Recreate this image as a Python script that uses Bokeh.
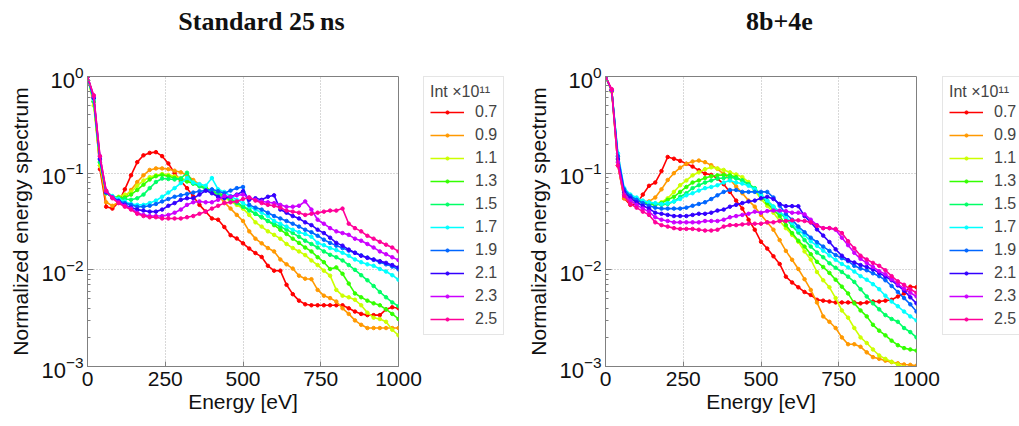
from bokeh.plotting import figure
from bokeh.models import FixedTicker, Legend, LegendItem, Label
from bokeh.layouts import row, column
from bokeh.embed import file_html
from bokeh.resources import INLINE

energy = [0, 20, 40, 60, 80, 100, 120, 140, 160, 180, 200, 220, 240, 260, 280, 300, 320, 340, 360, 380,
          400, 420, 440, 460, 480, 500, 520, 540, 560, 580, 600, 620, 640, 660, 680, 700, 720, 740, 760, 780,
          800, 820, 840, 860, 880, 900, 920, 940, 960, 980, 1000]
intensities = ["0.7", "0.9", "1.1", "1.3", "1.5", "1.7", "1.9", "2.1", "2.3", "2.5"]
colors = ["#ff0000", "#ff9900", "#ccff00", "#33ff00", "#00ff66", "#00ffff", "#0066ff", "#3300ff", "#cc00ff", "#ff0099"]
x_ticks = [0, 250, 500, 750, 1000]
titles = ["Standard 25\u2009ns", "8b+4e"]

# ---- Standard 25 ns ----
std_07 = [1.0, 0.6, 0.11, 0.045, 0.043, 0.05, 0.068, 0.095, 0.13, 0.153, 0.162, 0.165, 0.15, 0.126, 0.10, 0.083, 0.070, 0.0575, 0.047, 0.040,
          0.034, 0.033, 0.0277, 0.0228, 0.0211, 0.0188, 0.0166, 0.0149, 0.0136, 0.011, 0.0098, 0.0098, 0.0070, 0.0056, 0.0048, 0.0044, 0.0043, 0.0043, 0.0043, 0.0043,
          0.0043, 0.0043, 0.0040, 0.0037, 0.0035, 0.0034, 0.0034, 0.0034, 0.0039, 0.0041, 0.0040]
std_09 = [1.0, 0.55, 0.12, 0.05, 0.046, 0.05, 0.056, 0.067, 0.081, 0.095, 0.108, 0.112, 0.112, 0.110, 0.106, 0.102, 0.095, 0.085, 0.076, 0.070,
          0.065, 0.058, 0.050, 0.043, 0.037, 0.032, 0.025, 0.021, 0.0188, 0.0168, 0.0155, 0.0128, 0.0114, 0.0103, 0.0087, 0.0081, 0.008, 0.0062, 0.0054, 0.0051,
          0.0047, 0.004, 0.0035, 0.003, 0.0027, 0.0025, 0.0025, 0.0025, 0.0025, 0.0025, 0.0025]
std_11 = [1.0, 0.5, 0.12, 0.062, 0.057, 0.057, 0.06, 0.064, 0.074, 0.084, 0.091, 0.095, 0.098, 0.096, 0.093, 0.089, 0.084, 0.081, 0.075, 0.071,
          0.066, 0.061, 0.056, 0.051, 0.047, 0.043, 0.037, 0.031, 0.028, 0.025, 0.023, 0.021, 0.0185, 0.0168, 0.0155, 0.0142, 0.0125, 0.0112, 0.0098, 0.0087,
          0.0062, 0.0054, 0.0052, 0.0049, 0.0043, 0.0036, 0.0032, 0.0031, 0.0029, 0.0024, 0.0021]
std_13 = [1.0, 0.55, 0.13, 0.062, 0.057, 0.056, 0.056, 0.060, 0.067, 0.076, 0.086, 0.093, 0.096, 0.093, 0.089, 0.086, 0.082, 0.078, 0.074, 0.070,
          0.065, 0.062, 0.059, 0.054, 0.050, 0.045, 0.042, 0.038, 0.035, 0.032, 0.029, 0.026, 0.0235, 0.021, 0.019, 0.017, 0.0155, 0.0135, 0.012, 0.0102,
          0.0106, 0.0091, 0.0072, 0.0057, 0.0052, 0.0048, 0.0045, 0.0043, 0.0039, 0.0035, 0.0031]
std_15 = [1.0, 0.55, 0.13, 0.063, 0.057, 0.055, 0.054, 0.053, 0.055, 0.060, 0.070, 0.081, 0.088, 0.087, 0.086, 0.088, 0.101, 0.078, 0.073, 0.069,
          0.065, 0.061, 0.057, 0.053, 0.049, 0.045, 0.041, 0.038, 0.035, 0.032, 0.030, 0.028, 0.026, 0.024, 0.022, 0.020, 0.0185, 0.017, 0.0155, 0.0143,
          0.0135, 0.0125, 0.0112, 0.0100, 0.0088, 0.0078, 0.0068, 0.0059, 0.0052, 0.0046, 0.0042]
std_17 = [1.0, 0.58, 0.14, 0.065, 0.058, 0.054, 0.051, 0.048, 0.047, 0.047, 0.049, 0.052, 0.057, 0.063, 0.070, 0.079, 0.089, 0.080, 0.077, 0.074,
          0.089, 0.068, 0.064, 0.058, 0.053, 0.049, 0.045, 0.042, 0.039, 0.036, 0.032, 0.030, 0.028, 0.026, 0.0245, 0.0235, 0.022, 0.019, 0.018, 0.0168,
          0.016, 0.015, 0.014, 0.0128, 0.012, 0.0114, 0.011, 0.0102, 0.0096, 0.0088, 0.0079]
std_19 = [1.0, 0.6, 0.14, 0.063, 0.056, 0.052, 0.049, 0.047, 0.045, 0.045, 0.046, 0.048, 0.051, 0.054, 0.057, 0.059, 0.061, 0.063, 0.065, 0.066,
          0.068, 0.065, 0.062, 0.066, 0.070, 0.072, 0.047, 0.044, 0.042, 0.039, 0.036, 0.034, 0.032, 0.030, 0.028, 0.026, 0.0245, 0.0225, 0.0205, 0.019,
          0.0178, 0.0168, 0.0158, 0.015, 0.0141, 0.0134, 0.0127, 0.012, 0.0114, 0.0108, 0.0101]
std_21 = [1.0, 0.6, 0.14, 0.064, 0.056, 0.051, 0.047, 0.044, 0.042, 0.041, 0.040, 0.040, 0.042, 0.046, 0.049, 0.053, 0.055, 0.055, 0.060, 0.066,
          0.062, 0.057, 0.055, 0.057, 0.060, 0.065, 0.053, 0.055, 0.053, 0.057, 0.059, 0.042, 0.039, 0.036, 0.034, 0.031, 0.029, 0.026, 0.024, 0.0215,
          0.019, 0.0178, 0.0162, 0.015, 0.014, 0.0133, 0.0128, 0.0123, 0.0118, 0.0112, 0.0106]
std_23 = [1.0, 0.62, 0.15, 0.065, 0.056, 0.050, 0.046, 0.043, 0.039, 0.037, 0.036, 0.036, 0.036, 0.037, 0.039, 0.042, 0.047, 0.050, 0.051, 0.050,
          0.050, 0.053, 0.058, 0.057, 0.059, 0.060, 0.056, 0.053, 0.051, 0.050, 0.049, 0.047, 0.045, 0.045, 0.046, 0.051, 0.042, 0.033, 0.030, 0.027,
          0.025, 0.024, 0.023, 0.021, 0.020, 0.0185, 0.017, 0.0155, 0.0145, 0.0135, 0.0126]
std_25 = [1.0, 0.64, 0.15, 0.066, 0.055, 0.049, 0.045, 0.042, 0.038, 0.036, 0.035, 0.035, 0.034, 0.034, 0.034, 0.034, 0.035, 0.036, 0.038, 0.040,
          0.043, 0.046, 0.049, 0.050, 0.051, 0.054, 0.056, 0.052, 0.049, 0.047, 0.046, 0.044, 0.041, 0.040, 0.039, 0.037, 0.038, 0.039, 0.040, 0.041,
          0.041, 0.043, 0.030, 0.027, 0.025, 0.0225, 0.021, 0.0195, 0.0182, 0.017, 0.0155]

# ---- 8b+4e ----
b8_07 = [1.0, 0.72, 0.12, 0.055, 0.047, 0.048, 0.060, 0.074, 0.080, 0.105, 0.147, 0.141, 0.134, 0.125, 0.117, 0.107, 0.099, 0.096, 0.088, 0.077,
         0.064, 0.052, 0.043, 0.033, 0.026, 0.0195, 0.0166, 0.0138, 0.0115, 0.0085, 0.0074, 0.0066, 0.0059, 0.0055, 0.0049, 0.0048, 0.0047, 0.0046, 0.0046, 0.0046,
         0.0046, 0.0045, 0.0046, 0.0047, 0.0047, 0.0048, 0.0049, 0.0053, 0.0057, 0.0067, 0.0066]
b8_09 = [1.0, 0.7, 0.12, 0.055, 0.050, 0.050, 0.051, 0.051, 0.056, 0.068, 0.085, 0.100, 0.114, 0.125, 0.132, 0.135, 0.130, 0.121, 0.111, 0.098,
         0.086, 0.073, 0.062, 0.052, 0.045, 0.037, 0.031, 0.026, 0.0203, 0.0157, 0.0127, 0.0102, 0.008, 0.0062, 0.0046, 0.0033, 0.0029, 0.0025, 0.002, 0.0017,
         0.0017, 0.0016, 0.0014, 0.00125, 0.0012, 0.00115, 0.00111, 0.00108, 0.00105, 0.00104, 0.00102]
b8_11 = [1.0, 0.7, 0.13, 0.06, 0.055, 0.052, 0.050, 0.049, 0.048, 0.050, 0.055, 0.064, 0.075, 0.084, 0.095, 0.102, 0.110, 0.115, 0.112, 0.108,
         0.102, 0.097, 0.091, 0.081, 0.066, 0.054, 0.046, 0.039, 0.032, 0.027, 0.023, 0.0195, 0.0155, 0.0128, 0.0095, 0.0078, 0.0066, 0.0051, 0.0038, 0.0032,
         0.0025, 0.002, 0.00175, 0.0015, 0.0013, 0.0012, 0.00112, 0.00105, 0.00098, 0.0009, 0.00085]
b8_13 = [1.0, 0.72, 0.14, 0.063, 0.057, 0.053, 0.050, 0.048, 0.047, 0.049, 0.053, 0.057, 0.064, 0.072, 0.080, 0.084, 0.089, 0.093, 0.095, 0.096,
         0.095, 0.091, 0.084, 0.076, 0.068, 0.058, 0.049, 0.042, 0.036, 0.029, 0.024, 0.020, 0.0174, 0.0145, 0.0121, 0.0107, 0.0093, 0.0079, 0.0067, 0.0057,
         0.0045, 0.0038, 0.0033, 0.0027, 0.00235, 0.0021, 0.00185, 0.00166, 0.00155, 0.0015, 0.00146]
b8_15 = [1.0, 0.72, 0.15, 0.066, 0.058, 0.054, 0.051, 0.049, 0.048, 0.047, 0.048, 0.051, 0.057, 0.062, 0.070, 0.075, 0.080, 0.084, 0.088, 0.089,
         0.091, 0.088, 0.084, 0.077, 0.070, 0.060, 0.052, 0.045, 0.039, 0.034, 0.0285, 0.0243, 0.0203, 0.0174, 0.0151, 0.0135, 0.0117, 0.0105, 0.0095, 0.0085,
         0.0075, 0.0063, 0.0053, 0.0045, 0.0039, 0.0034, 0.0031, 0.0029, 0.0025, 0.00227, 0.002]
b8_17 = [1.0, 0.72, 0.16, 0.07, 0.06, 0.056, 0.052, 0.050, 0.049, 0.048, 0.049, 0.051, 0.054, 0.059, 0.062, 0.066, 0.070, 0.072, 0.075, 0.080,
         0.084, 0.080, 0.078, 0.074, 0.068, 0.059, 0.052, 0.045, 0.040, 0.035, 0.0305, 0.026, 0.0229, 0.0197, 0.0177, 0.0158, 0.0141, 0.0127, 0.0115, 0.0106,
         0.0096, 0.0086, 0.0079, 0.0071, 0.0063, 0.0054, 0.0047, 0.0042, 0.0037, 0.0033, 0.003]
b8_19 = [1.0, 0.72, 0.15, 0.068, 0.058, 0.053, 0.049, 0.046, 0.044, 0.043, 0.043, 0.043, 0.043, 0.044, 0.046, 0.048, 0.050, 0.054, 0.059, 0.064,
         0.067, 0.067, 0.064, 0.064, 0.064, 0.064, 0.064, 0.056, 0.046, 0.038, 0.033, 0.028, 0.0245, 0.0215, 0.0193, 0.0174, 0.0157, 0.0142, 0.0132, 0.0123,
         0.011, 0.0103, 0.0099, 0.0092, 0.0086, 0.0078, 0.0068, 0.0059, 0.0051, 0.0044, 0.0037]
b8_21 = [1.0, 0.72, 0.14, 0.064, 0.055, 0.050, 0.046, 0.043, 0.039, 0.038, 0.037, 0.036, 0.036, 0.036, 0.037, 0.038, 0.038, 0.039, 0.041, 0.042,
         0.045, 0.047, 0.049, 0.051, 0.052, 0.055, 0.057, 0.054, 0.048, 0.0456, 0.0456, 0.0455, 0.036, 0.031, 0.0262, 0.0226, 0.0194, 0.0163, 0.014, 0.0126,
         0.0119, 0.0112, 0.0107, 0.0101, 0.0093, 0.0085, 0.0078, 0.0069, 0.0061, 0.0052, 0.0045]
b8_23 = [1.0, 0.72, 0.13, 0.06, 0.052, 0.047, 0.043, 0.040, 0.035, 0.033, 0.032, 0.031, 0.031, 0.031, 0.031, 0.031, 0.032, 0.032, 0.032, 0.033,
         0.035, 0.036, 0.037, 0.038, 0.040, 0.039, 0.0405, 0.041, 0.041, 0.0405, 0.039, 0.039, 0.0375, 0.033, 0.029, 0.027, 0.027, 0.026, 0.0215, 0.018,
         0.015, 0.013, 0.0118, 0.0107, 0.0097, 0.009, 0.008, 0.0071, 0.0064, 0.0058, 0.0053]
b8_25 = [1.0, 0.74, 0.12, 0.058, 0.048, 0.044, 0.040, 0.037, 0.031, 0.029, 0.028, 0.027, 0.0265, 0.0265, 0.0265, 0.026, 0.0255, 0.0255, 0.026, 0.028,
         0.029, 0.029, 0.0295, 0.030, 0.030, 0.030, 0.031, 0.031, 0.032, 0.032, 0.0325, 0.0325, 0.032, 0.031, 0.0285, 0.027, 0.027, 0.0265, 0.024, 0.0198,
         0.0167, 0.014, 0.0128, 0.0118, 0.011, 0.0099, 0.0086, 0.0076, 0.007, 0.0063, 0.0058]

std_series = [std_07, std_09, std_11, std_13, std_15, std_17, std_19, std_21, std_23, std_25]
b8_series = [b8_07, b8_09, b8_11, b8_13, b8_15, b8_17, b8_19, b8_21, b8_23, b8_25]

FRAME_W = 311
LEFT = 87
TITLE_H = 44
BODY_H = 426 - TITLE_H
LINE_W = 1.6


def bare_figure(width, height, top=0, **kw):
    f = figure(width=width, height=height, output_backend="svg", toolbar_location=None,
               x_axis_location=None, y_axis_location=None,
               min_border_left=0, min_border_right=0, min_border_top=top, min_border_bottom=0,
               background_fill_color="white", border_fill_color="white", **kw)
    f.outline_line_color = None
    f.xgrid.visible = False
    f.ygrid.visible = False
    return f


def title_panel(text, width):
    f = bare_figure(width, TITLE_H)
    f.add_layout(Label(x=261, y=TITLE_H - 21, x_units="screen", y_units="screen",
                       text=text, text_align="center", text_baseline="middle",
                       text_font="Liberation Serif", text_font_style="bold",
                       text_font_size="26px", text_color="#111111"))
    return f


def plot_panel(series, width):
    p = figure(width=width, height=BODY_H, y_axis_type="log",
               x_range=(0, 1000), y_range=(1e-3, 1),
               output_backend="svg", toolbar_location=None,
               min_border_left=LEFT, min_border_right=width - LEFT - FRAME_W,
               min_border_top=68 - TITLE_H, min_border_bottom=60,
               background_fill_color="white", border_fill_color="white")
    p.outline_line_color = "#808080"
    p.outline_line_width = 1

    p.xaxis.ticker = FixedTicker(ticks=x_ticks)
    p.xaxis.minor_tick_line_color = None
    p.xaxis.major_tick_in = 5
    p.xaxis.major_tick_out = 0
    p.yaxis.major_tick_in = 6
    p.yaxis.major_tick_out = 0
    p.yaxis.minor_tick_in = 3
    p.yaxis.minor_tick_out = 0
    for ax in (p.xaxis, p.yaxis):
        ax.axis_line_color = "#808080"
        ax.major_tick_line_color = "#808080"
        ax.major_label_text_font = "Liberation Sans"
        ax.major_label_text_color = "#111111"
        ax.axis_label_text_font = "Liberation Sans"
        ax.axis_label_text_font_size = "21px"
        ax.axis_label_text_font_style = "normal"
        ax.axis_label_text_color = "#111111"
    p.xaxis.major_label_text_font_size = "21px"
    p.yaxis.major_label_text_font_size = "22px"
    p.yaxis.minor_tick_line_color = "#808080"
    p.xaxis.axis_label = "Energy [eV]"
    p.yaxis.axis_label = "Normalized energy spectrum"
    p.xaxis.major_label_standoff = 5
    p.yaxis.major_label_standoff = 4
    p.xaxis.axis_label_standoff = 1
    p.yaxis.axis_label_standoff = 6

    p.xgrid.ticker = FixedTicker(ticks=x_ticks)
    for g in (p.xgrid, p.ygrid):
        g.grid_line_color = "#b0b0b0"
        g.grid_line_dash = "1 2"
        g.grid_line_width = 1

    for col, ys in zip(colors, series):
        p.line(energy, ys, line_color=col, line_width=LINE_W)
        p.scatter(energy, ys, marker="circle", size=3.5, fill_color=col, line_color=col)
    return p


def legend_panel(series, width):
    # the same series, drawn out of view: only the legend of this panel is visible
    f = bare_figure(width, BODY_H, top=76 - TITLE_H, x_range=(2000, 3000), y_range=(2000, 3000))
    items = []
    for lab, col, ys in zip(intensities, colors, series):
        r1 = f.line(energy, ys, line_color=col, line_width=LINE_W)
        r2 = f.scatter(energy, ys, marker="circle", size=3.5, fill_color=col, line_color=col)
        items.append(LegendItem(label=lab, renderers=[r1, r2]))
    leg = Legend(items=items, location="top_left", title="Int \u00d710\u00b9\u00b9",
                 title_text_font="Liberation Sans", title_text_font_size="16px",
                 title_text_font_style="normal", title_standoff=1,
                 label_text_font="Liberation Sans", label_text_font_size="16px",
                 border_line_color="#cccccc", border_line_width=1,
                 background_fill_color="white", background_fill_alpha=1.0,
                 padding=6, spacing=4, margin=0, label_height=19, glyph_height=8,
                 glyph_width=34, label_standoff=11)
    f.add_layout(leg)
    return f


t1 = title_panel(titles[0], 518)
t2 = title_panel(titles[1], 501)
p1 = plot_panel(std_series, 423)
l1 = legend_panel(std_series, 95)
p2 = plot_panel(b8_series, 424)
l2 = legend_panel(b8_series, 77)

layout = column(row(t1, t2), row(p1, l1, p2, l2))

open("out.html", "w").write(file_html(layout, INLINE))
